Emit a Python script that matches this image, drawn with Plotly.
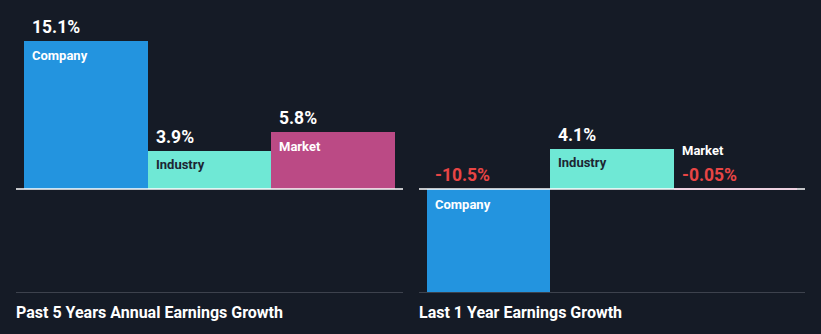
import plotly.graph_objects as go

categories = ["Company", "Industry", "Market"]
past5_values = [15.1, 3.9, 5.8]
last1_values = [-10.5, 4.1, -0.05]
panel_titles = ["Past 5 Years Annual Earnings Growth", "Last 1 Year Earnings Growth"]

colors = ["#2394df", "#6fe8d5", "#bb4a85"]
name_colors = ["#ffffff", "#1d2633", "#ffffff"]
BG = "#151b26"
RED = "#e84545"

W, H = 821, 334
fig = go.Figure()

panels = [("x", "y", past5_values), ("x2", "y", last1_values)]
for xa, ya, vals in panels:
    fig.add_trace(go.Bar(
        x=categories, y=vals, xaxis=xa, yaxis=ya,
        marker=dict(color=colors, line=dict(width=0)),
        hoverinfo="skip", showlegend=False,
    ))

# y scale in px per percent
ymin, ymax = -14.84, 19.34
ppu = H / (ymax - ymin)

def fmt(v):
    s = f"{v:.2f}" if abs(v) < 0.1 else f"{v:.1f}"
    return s + "%"

annotations = []
for xa, ya, vals in panels:
    for i, v in enumerate(vals):
        vcolor = "#ffffff" if v >= 0 else RED
        tiny = abs(v) * ppu < 5
        top = max(v, 0)
        annotations.append(dict(
            x=i - 0.5, y=top, xref=xa, yref=ya, text=fmt(v),
            showarrow=False, xanchor="left", yanchor="middle",
            xshift=6, yshift=14, font=dict(size=17.5, color=vcolor, family="Roboto", weight="bold")))
        if v >= 0:
            ny, ys, nc = v, -14, name_colors[i]
        elif tiny:
            ny, ys, nc = 0, 38, "#ffffff"
        else:
            ny, ys, nc = 0, -16, name_colors[i]
        annotations.append(dict(
            x=i - 0.5, y=ny, xref=xa, yref=ya, text=f"<b>{categories[i]}</b>",
            showarrow=False, xanchor="left", yanchor="middle",
            xshift=6, yshift=ys, font=dict(size=13, color=nc, family="Roboto")))

for t, px in zip(panel_titles, [16, 419]):
    annotations.append(dict(
        x=px / W, y=1 - 312 / H, xref="paper", yref="paper", text=f"<b>{t}</b>",
        showarrow=False, xanchor="left", yanchor="middle", xshift=-2,
        font=dict(size=16, color="#ffffff", family="Roboto")))

shapes = []
for x0, x1 in [(16, 403), (419, 805)]:
    shapes.append(dict(type="line", xref="paper", yref="y", x0=x0 / W, x1=x1 / W, y0=0, y1=0,
                       line=dict(color="#ffffff", width=1.5), layer="above"))
    shapes.append(dict(type="line", xref="paper", yref="paper", x0=x0 / W, x1=x1 / W,
                       y0=1 - 292.5 / H, y1=1 - 292.5 / H,
                       line=dict(color="#3d424d", width=1), layer="below"))

axis_common = dict(showgrid=False, zeroline=False, showticklabels=False, showline=False,
                   fixedrange=True, range=[-0.5, 2.5])
fig.update_layout(
    width=W, height=H, margin=dict(l=0, r=0, t=0, b=0),
    paper_bgcolor=BG, plot_bgcolor=BG, bargap=0,
    xaxis=dict(domain=[24 / W, 395 / W], **axis_common),
    xaxis2=dict(domain=[427 / W, 797 / W], **axis_common),
    yaxis=dict(range=[ymin, ymax], domain=[0, 1], showgrid=False, zeroline=False,
               showticklabels=False, fixedrange=True),
    annotations=annotations, shapes=shapes,
)
fig.write_html("out.html")
